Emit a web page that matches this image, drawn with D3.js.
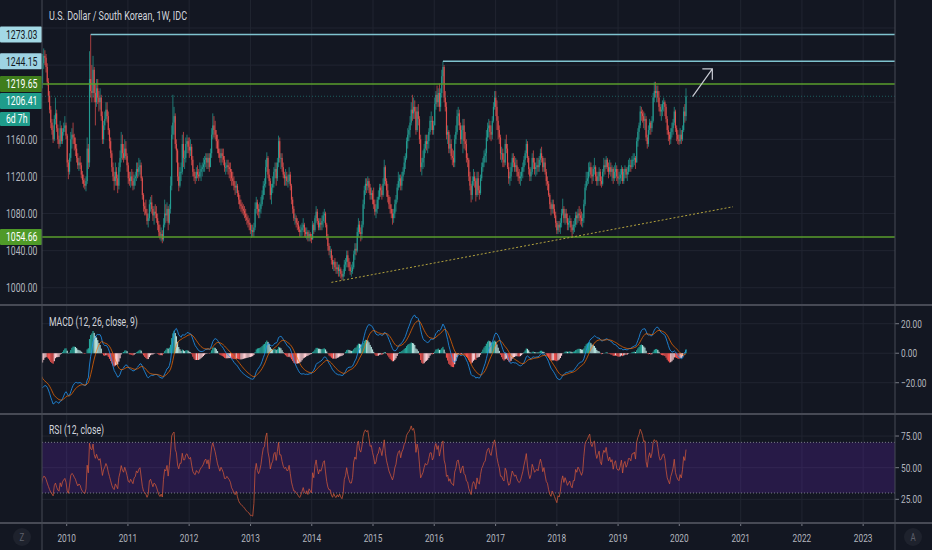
<!DOCTYPE html>
<html lang="en">
<head>
<meta charset="UTF-8">
<title>USD/KRW 1W</title>
<script src="https://d3js.org/d3.v7.min.js"></script>
<style>
  html, body { margin: 0; padding: 0; background: #131722; overflow: hidden; }
  svg { display: block; }
  text { font-family: Roboto, "Noto Sans", sans-serif; }
</style>
</head>
<body>
<div id="viz"><svg width="932" height="550"></svg></div>
<script>
// ---- data -------------------------------------------------------------
// weekly closes before the visible range, only used to warm up MACD / RSI
const warmStart = "2008-07-07";
const warmClose = [1045, 1010, 1015, 1012, 1025, 1040, 1065, 1090, 1110, 1115, 1160, 1165, 1210,
  1290, 1250, 1380, 1260, 1320, 1400, 1480, 1460, 1470, 1390, 1310, 1300, 1260,
  1330, 1370, 1370, 1380, 1365, 1390, 1460, 1530, 1550, 1480, 1440, 1390, 1340,
  1330, 1340, 1370, 1290, 1260, 1250, 1255, 1250, 1245, 1250, 1265, 1285, 1285,
  1295, 1285, 1250, 1235, 1220];

// weekly bars [high, low, close]; open = previous close
const yearStarts = ["2009-08-10", "2010-01-04", "2011-01-03", "2012-01-02", "2013-01-07", "2014-01-06",
  "2015-01-05", "2016-01-04", "2017-01-02", "2018-01-01", "2019-01-07", "2020-01-06"];

const bars2009 = [[1252,1215,1242],[1258,1236,1250],[1256,1240,1248],[1252,1232,1238],[1242,1218,1222],
  [1226,1200,1207],[1212,1188,1192],[1196,1172,1178],[1182,1165,1170],[1175,1156,1160],[1186,1158,1182],
  [1205,1176,1188],[1192,1168,1172],[1176,1155,1160],[1164,1150,1155],[1180,1152,1172],[1175,1155,1158],
  [1172,1155,1168],[1178,1164,1172],[1185,1168,1175],[1178,1160,1164]];

const bars2010 = [[1166,1130,1135],[1138,1117,1125],[1145,1122,1140],[1168,1136,1160],
  [1172,1150,1165],[1178,1155,1162],[1166,1148,1155],[1162,1142,1150],
  [1155,1135,1140],[1145,1128,1132],[1140,1126,1135],[1142,1128,1132],[1135,1118,1122],
  [1126,1112,1116],[1122,1108,1112],[1118,1106,1110],[1120,1104,1115],
  [1162,1112,1150],[1155,1128,1135],[1255,1130,1225],[1273.03,1205,1212],[1240,1200,1210],
  [1250,1205,1235],[1238,1200,1210],[1220,1175,1200],[1225,1195,1215],
  [1225,1198,1205],[1212,1190,1200],[1215,1192,1205],[1208,1180,1185],
  [1190,1155,1160],[1180,1155,1175],[1190,1170,1182],[1200,1180,1192],[1200,1178,1185],
  [1190,1165,1170],[1172,1150,1158],[1162,1140,1145],[1148,1125,1130],
  [1135,1115,1120],[1125,1105,1115],[1135,1110,1125],[1130,1110,1118],
  [1122,1102,1110],[1135,1106,1130],[1148,1125,1140],[1168,1135,1155],[1165,1138,1145],
  [1155,1135,1140],[1160,1138,1150],[1158,1138,1142],[1145,1125,1132]];

const bars2011 = [[1135,1112,1118],[1125,1110,1115],[1125,1108,1120],[1128,1110,1115],[1125,1105,1110],
  [1122,1106,1118],[1125,1110,1120],[1135,1115,1128],[1135,1118,1125],
  [1140,1120,1130],[1138,1122,1132],[1135,1115,1118],[1120,1095,1100],
  [1102,1082,1088],[1092,1078,1085],[1095,1078,1080],[1085,1068,1072],
  [1080,1065,1075],[1095,1072,1090],[1098,1082,1092],[1100,1080,1085],[1088,1072,1078],
  [1088,1068,1082],[1090,1075,1080],[1088,1070,1075],[1080,1062,1068],
  [1072,1055,1060],[1068,1052,1056],[1065,1050,1058],[1062,1048,1052],
  [1075,1050,1068],[1095,1065,1080],[1090,1070,1078],[1092,1072,1085],[1088,1062,1070],
  [1090,1068,1085],[1120,1080,1110],[1175,1105,1165],[1208,1160,1178],
  [1195,1165,1185],[1188,1150,1155],[1160,1135,1148],[1150,1115,1120],[1135,1104,1110],
  [1130,1108,1125],[1135,1115,1125],[1165,1122,1155],[1168,1130,1140],
  [1148,1128,1140],[1162,1135,1155],[1165,1145,1158],[1162,1145,1152]];

const bars2012 = [[1162,1140,1148],[1160,1142,1152],[1155,1132,1138],[1142,1120,1125],[1128,1115,1120],
  [1125,1112,1118],[1130,1115,1125],[1132,1118,1122],[1128,1115,1120],
  [1135,1118,1125],[1132,1115,1128],[1135,1120,1130],[1140,1125,1133],
  [1142,1125,1138],[1145,1130,1140],[1145,1128,1135],[1145,1128,1140],[1145,1125,1130],
  [1150,1130,1145],[1172,1140,1165],[1188,1160,1175],[1185,1162,1170],
  [1180,1160,1165],[1170,1150,1158],[1165,1145,1150],[1160,1140,1145],
  [1150,1135,1140],[1150,1132,1145],[1150,1135,1142],[1150,1132,1138],[1142,1125,1130],
  [1135,1122,1130],[1138,1125,1132],[1138,1122,1130],[1135,1118,1128],
  [1135,1115,1125],[1128,1110,1118],[1125,1110,1115],[1120,1105,1110],
  [1115,1100,1108],[1115,1102,1110],[1112,1098,1102],[1105,1090,1095],[1100,1085,1090],
  [1095,1082,1088],[1092,1080,1085],[1090,1078,1083],[1088,1075,1080],
  [1085,1072,1076],[1080,1068,1073],[1078,1065,1070],[1075,1062,1068],[1070,1058,1062]];

const bars2013 = [[1068,1054,1062],[1068,1055,1060],[1070,1055,1065],[1092,1062,1085],
  [1098,1080,1092],[1095,1078,1085],[1090,1075,1082],[1092,1075,1085],
  [1098,1080,1090],[1105,1088,1100],[1115,1095,1110],[1118,1100,1112],
  [1138,1108,1130],[1146,1125,1140],[1142,1118,1122],[1128,1110,1115],[1118,1095,1100],
  [1112,1090,1108],[1120,1102,1112],[1130,1108,1125],[1135,1118,1128],
  [1135,1110,1118],[1140,1115,1135],[1164,1130,1158],[1162,1135,1140],
  [1145,1128,1140],[1145,1125,1130],[1135,1118,1122],[1125,1110,1118],[1128,1110,1120],
  [1125,1110,1115],[1122,1108,1115],[1130,1112,1122],[1125,1105,1110],
  [1112,1090,1095],[1098,1080,1085],[1088,1072,1075],[1080,1068,1075],[1078,1065,1070],
  [1075,1062,1068],[1072,1060,1063],[1066,1055,1060],[1068,1055,1062],
  [1070,1056,1065],[1075,1060,1068],[1070,1055,1060],[1065,1054,1058],
  [1065,1052,1060],[1062,1050,1054],[1062,1050,1058],[1060,1050,1055],[1058,1048,1052]];

const bars2014 = [[1072,1052,1068],[1070,1058,1062],[1078,1060,1075],[1088,1070,1082],
  [1085,1068,1072],[1075,1062,1065],[1075,1062,1070],[1075,1062,1068],
  [1078,1062,1072],[1082,1065,1078],[1085,1070,1080],[1082,1065,1068],[1070,1052,1055],
  [1058,1040,1045],[1048,1035,1040],[1045,1032,1040],[1042,1025,1030],
  [1035,1020,1025],[1030,1018,1028],[1032,1018,1022],[1028,1015,1020],
  [1028,1015,1022],[1025,1012,1018],[1025,1012,1020],[1022,1010,1015],[1018,1008,1012],
  [1020,1008,1015],[1030,1012,1025],[1032,1018,1028],[1040,1022,1035],
  [1040,1022,1028],[1032,1018,1022],[1028,1014,1018],[1025,1012,1018],
  [1028,1015,1022],[1040,1020,1036],[1048,1030,1042],[1048,1035,1040],[1065,1038,1060],
  [1075,1055,1068],[1072,1058,1060],[1065,1050,1058],[1072,1052,1068],
  [1095,1065,1090],[1110,1085,1105],[1118,1100,1112],[1118,1102,1110],
  [1120,1105,1115],[1118,1102,1108],[1112,1095,1100],[1108,1095,1102],[1105,1090,1095]];

const bars2015 = [[1108,1085,1090],[1095,1078,1082],[1090,1075,1085],[1098,1080,1095],
  [1105,1085,1098],[1112,1095,1108],[1112,1098,1105],[1110,1095,1100],
  [1118,1098,1112],[1138,1110,1130],[1132,1110,1115],[1118,1098,1105],[1112,1092,1098],
  [1100,1085,1090],[1098,1080,1085],[1090,1075,1080],[1085,1068,1075],
  [1085,1070,1080],[1095,1075,1090],[1100,1082,1095],[1112,1092,1108],
  [1125,1105,1115],[1122,1108,1118],[1122,1105,1110],[1125,1105,1120],[1130,1115,1125],
  [1142,1122,1135],[1145,1128,1140],[1162,1138,1158],[1172,1150,1165],
  [1175,1158,1170],[1185,1162,1178],[1200,1175,1192],[1208,1180,1188],[1205,1182,1195],
  [1202,1182,1190],[1195,1165,1170],[1195,1168,1190],[1198,1175,1182],
  [1185,1155,1160],[1165,1125,1130],[1140,1121,1135],[1148,1128,1140],
  [1155,1130,1150],[1165,1145,1158],[1165,1148,1155],[1165,1145,1158],[1172,1150,1168],
  [1185,1165,1180],[1190,1170,1180],[1185,1165,1170],[1180,1165,1175]];

const bars2016 = [[1205,1175,1198],[1212,1192,1208],[1218,1195,1200],[1215,1195,1210],
  [1220,1190,1195],[1215,1190,1210],[1235,1205,1228],[1244.15,1220,1238],[1240,1200,1205],
  [1212,1190,1195],[1200,1160,1165],[1175,1155,1168],[1170,1145,1150],
  [1165,1145,1155],[1160,1138,1142],[1150,1132,1140],[1148,1130,1135],
  [1165,1130,1160],[1175,1155,1168],[1192,1165,1185],[1195,1175,1188],[1192,1170,1175],
  [1178,1155,1160],[1175,1155,1170],[1182,1145,1175],[1182,1150,1158],
  [1168,1148,1155],[1160,1135,1140],[1145,1130,1138],[1140,1115,1120],
  [1125,1105,1110],[1112,1092,1100],[1120,1095,1115],[1128,1110,1120],[1125,1108,1115],
  [1118,1093,1100],[1125,1098,1118],[1125,1100,1105],[1110,1095,1102],
  [1122,1100,1118],[1135,1115,1130],[1140,1125,1135],[1148,1130,1142],[1150,1135,1145],
  [1170,1135,1162],[1178,1158,1172],[1182,1162,1175],[1180,1160,1168],
  [1175,1158,1165],[1185,1160,1180],[1200,1178,1195],[1212,1192,1205]];

const bars2017 = [[1212,1185,1195],[1202,1170,1180],[1185,1160,1170],[1175,1155,1162],[1165,1138,1145],
  [1152,1135,1145],[1150,1130,1138],[1145,1130,1135],[1160,1132,1155],
  [1165,1145,1150],[1155,1128,1130],[1135,1112,1118],[1125,1110,1120],
  [1135,1115,1130],[1145,1125,1140],[1145,1130,1135],[1142,1125,1130],
  [1140,1125,1132],[1138,1120,1125],[1130,1115,1120],[1128,1112,1118],[1125,1110,1120],
  [1130,1115,1125],[1135,1118,1130],[1142,1125,1138],[1148,1132,1145],
  [1160,1140,1155],[1158,1135,1140],[1142,1122,1128],[1130,1115,1120],[1130,1115,1125],
  [1145,1122,1140],[1148,1128,1135],[1140,1122,1128],[1135,1120,1130],
  [1140,1122,1132],[1140,1125,1130],[1142,1125,1138],[1150,1132,1145],
  [1152,1135,1140],[1142,1125,1130],[1140,1125,1135],[1140,1122,1125],[1128,1110,1115],
  [1120,1105,1112],[1115,1098,1100],[1102,1085,1090],[1092,1078,1085],
  [1095,1080,1090],[1095,1080,1085],[1090,1075,1078],[1082,1065,1070]];

const bars2018 = [[1072,1058,1062],[1072,1058,1068],[1072,1060,1065],[1075,1058,1070],[1085,1065,1080],
  [1096,1078,1085],[1088,1070,1075],[1085,1068,1080],[1085,1070,1075],
  [1080,1062,1068],[1075,1062,1070],[1078,1065,1072],[1075,1060,1065],
  [1068,1055,1062],[1072,1058,1068],[1075,1060,1068],[1082,1065,1078],[1082,1068,1075],
  [1085,1070,1080],[1088,1072,1078],[1085,1068,1075],[1082,1066,1072],
  [1080,1065,1075],[1095,1070,1090],[1112,1088,1108],[1125,1105,1115],
  [1125,1110,1118],[1135,1112,1125],[1136,1120,1130],[1135,1118,1122],[1130,1112,1120],
  [1132,1115,1128],[1140,1122,1130],[1132,1115,1120],[1125,1110,1115],
  [1125,1110,1120],[1130,1115,1125],[1128,1110,1115],[1120,1108,1112],
  [1128,1110,1125],[1140,1120,1132],[1138,1122,1130],[1142,1128,1138],[1140,1125,1130],
  [1135,1118,1125],[1138,1122,1130],[1135,1120,1125],[1132,1115,1128],
  [1130,1112,1118],[1132,1115,1125],[1135,1118,1128],[1132,1115,1120],[1128,1112,1118]];

const bars2019 = [[1125,1110,1118],[1128,1112,1122],[1132,1115,1128],[1130,1112,1115],
  [1128,1112,1125],[1132,1118,1128],[1130,1118,1122],[1130,1115,1125],
  [1138,1122,1132],[1140,1125,1132],[1138,1125,1130],[1142,1128,1138],
  [1145,1130,1138],[1145,1132,1140],[1142,1128,1135],[1162,1135,1158],[1172,1152,1168],
  [1178,1160,1175],[1196,1172,1190],[1195,1180,1188],[1192,1178,1185],
  [1190,1172,1180],[1188,1170,1182],[1185,1158,1162],[1165,1150,1155],
  [1175,1152,1170],[1182,1165,1178],[1180,1165,1172],[1185,1168,1180],[1210,1178,1205],
  [1222,1200,1212],[1222,1205,1210],[1218,1200,1212],[1218,1200,1205],
  [1212,1190,1195],[1198,1185,1190],[1198,1180,1192],[1202,1185,1198],[1205,1190,1200],
  [1202,1185,1195],[1198,1178,1182],[1185,1165,1170],[1175,1158,1165],
  [1168,1154,1160],[1172,1155,1168],[1178,1162,1172],[1182,1165,1178],
  [1195,1175,1190],[1192,1168,1172],[1175,1158,1165],[1170,1155,1160],[1165,1154,1158]];

const bars2020 = [[1172,1155,1165],[1170,1155,1160],[1175,1158,1170],[1195,1168,1190],[1198,1178,1185],
  [1215,1180,1206.41]];

const barsByYear = [bars2009, bars2010, bars2011, bars2012, bars2013, bars2014,
  bars2015, bars2016, bars2017, bars2018, bars2019, bars2020];

// drawn price levels, the first two are rays that start at a peak week
const levelPrices = [1273.03, 1244.15, 1219.65, 1054.66];
const levelStarts = ["2010-05-24", "2016-02-22", null, null];

// dotted support trendline and the arrow (date, price)
const trendDates = ["2014-04-28", "2020-11-16"];
const trendPrices = [1005.8, 1087.3];
const arrowDates = ["2020-03-20", "2020-07-16"];
const arrowPrices = [1206, 1236];

const countdown = "6d 7h";
const priceTicks = [1000, 1040, 1080, 1120, 1160, 1200, 1240, 1280];
const priceTickLabels = [1000, 1040, 1080, 1120, 1160, 1280];
const macdTicks = [-20, 0, 20];
const rsiTicks = [25, 50, 75];
const rsiBands = [30, 70];
const yearTicks = [2010, 2011, 2012, 2013, 2014, 2015, 2016, 2017, 2018, 2019, 2020, 2021, 2022, 2023];

// ---- build series -----------------------------------------------------
const parse = d3.timeParse("%Y-%m-%d");
const candles = [];
let prevClose = warmClose[warmClose.length - 1];
barsByYear.forEach(function (bars, yi) {
  const start = parse(yearStarts[yi]);
  bars.forEach(function (b, i) {
    const o = prevClose;
    candles.push({
      date: d3.timeWeek.offset(start, i),
      open: o, high: Math.max(b[0], o, b[2]), low: Math.min(b[1], o, b[2]), close: b[2]
    });
    prevClose = b[2];
  });
});

const wStart = parse(warmStart);
const series = warmClose.map(function (c, i) { return { date: d3.timeWeek.offset(wStart, i), close: c }; })
  .concat(candles.map(function (d) { return { date: d.date, close: d.close }; }));

function ema(vals, n) {
  const k = 2 / (n + 1);
  let prev;
  return vals.map(function (v, i) { prev = i === 0 ? v : v * k + prev * (1 - k); return prev; });
}
const closes = series.map(function (d) { return d.close; });
const e12 = ema(closes, 12), e26 = ema(closes, 26);
const macd = closes.map(function (c, i) { return e12[i] - e26[i]; });
const signal = ema(macd, 9);
series.forEach(function (d, i) {
  d.macd = macd[i];
  d.signal = signal[i];
  d.hist = macd[i] - signal[i];
  d.prevHist = i > 0 ? macd[i - 1] - signal[i - 1] : d.hist;
});

// RSI 12 with Wilder smoothing
(function () {
  const n = 12;
  let up = 0, dn = 0;
  for (let i = 1; i < series.length; i++) {
    const ch = closes[i] - closes[i - 1];
    const u = Math.max(ch, 0), w = Math.max(-ch, 0);
    if (i <= n) {
      up += u / n; dn += w / n;
    } else {
      up = (up * (n - 1) + u) / n; dn = (dn * (n - 1) + w) / n;
    }
    if (i >= n) series[i].rsi = dn === 0 ? 100 : 100 - 100 / (1 + up / dn);
  }
})();

// ---- layout -----------------------------------------------------------
const W = 932, H = 550;
const left = 42, right = 895;
const mainTop = 0, mainBot = 305, macdBot = 414, rsiBot = 523;
const SX = 0.72;   // glyphs in the reference are narrow

const svg = d3.select("svg");
svg.append("rect").attr("width", W).attr("height", H).attr("fill", "#131722");

const x = d3.scaleTime()
  .domain([new Date(2010, 0, 1), new Date(2020, 0, 1)])
  .range([66.7, 679.3]);
const y = d3.scaleLinear().domain([981.4, 1310.2]).range([mainBot, mainTop]);
const yM = d3.scaleLinear().domain([-41.2, 32.7]).range([macdBot, mainBot]);
const yR = d3.scaleLinear().domain([6.3, 92.4]).range([rsiBot, macdBot]);
const barW = x(new Date(2015, 0, 8)) - x(new Date(2015, 0, 1));

const defs = svg.append("defs");
[["clipMain", mainTop, mainBot], ["clipMacd", mainBot, macdBot], ["clipRsi", macdBot, rsiBot]].forEach(function (c) {
  defs.append("clipPath").attr("id", c[0]).append("rect")
    .attr("x", left).attr("y", c[1]).attr("width", right - left).attr("height", c[2] - c[1]);
});
// the 1280 tick label only peeks out above the first badge
defs.append("clipPath").attr("id", "clipTop").append("rect")
  .attr("x", 0).attr("y", 0).attr("width", left).attr("height", 27);

function label(g, px, py, str, size, color, anchor) {
  return g.append("text")
    .attr("transform", "translate(" + px + "," + py + ") scale(" + SX + ",1)")
    .attr("text-anchor", anchor || "start")
    .attr("font-size", size)
    .attr("fill", color)
    .text(str);
}

// ---- grid ---------------------------------------------------------------
const grid = svg.append("g").attr("stroke", "#212531").attr("stroke-width", 1);
yearTicks.forEach(function (yr) {
  const gx = x(new Date(yr, 0, 1));
  grid.append("line").attr("x1", gx).attr("x2", gx).attr("y1", mainTop).attr("y2", rsiBot);
});
priceTicks.forEach(function (p) {
  grid.append("line").attr("x1", left).attr("x2", right).attr("y1", y(p)).attr("y2", y(p));
});
macdTicks.forEach(function (v) {
  grid.append("line").attr("x1", left).attr("x2", right).attr("y1", yM(v)).attr("y2", yM(v));
});
rsiTicks.forEach(function (v) {
  grid.append("line").attr("x1", left).attr("x2", right).attr("y1", yR(v)).attr("y2", yR(v));
});

// ---- main pane ------------------------------------------------------------
const main = svg.append("g").attr("clip-path", "url(#clipMain)");
const UP = "#26a69a", DOWN = "#ef5350";

main.selectAll("line.wick").data(candles).enter().append("line")
  .attr("class", "wick")
  .attr("x1", function (d) { return x(d.date); })
  .attr("x2", function (d) { return x(d.date); })
  .attr("y1", function (d) { return y(d.high); })
  .attr("y2", function (d) { return y(d.low); })
  .attr("stroke", function (d) { return d.close >= d.open ? UP : DOWN; })
  .attr("stroke-width", 0.9)
  .attr("stroke-opacity", 0.75);

main.selectAll("rect.body").data(candles).enter().append("rect")
  .attr("class", "body")
  .attr("x", function (d) { return x(d.date) - barW / 2; })
  .attr("width", barW)
  .attr("y", function (d) { return y(Math.max(d.open, d.close)); })
  .attr("height", function (d) { return Math.max(1, Math.abs(y(d.open) - y(d.close))); })
  .attr("fill", function (d) { return d.close >= d.open ? UP : DOWN; })
  .attr("fill-opacity", 0.8);

// last price line
const last = candles[candles.length - 1];
main.append("line")
  .attr("x1", left).attr("x2", right).attr("y1", y(last.close)).attr("y2", y(last.close))
  .attr("stroke", UP).attr("stroke-opacity", 0.5).attr("stroke-dasharray", "1,2");

// levels
const levelColors = ["#7fc3cf", "#7fc3cf", "#5a9e2c", "#5a9e2c"];
levelPrices.forEach(function (p, i) {
  const x1 = levelStarts[i] ? x(parse(levelStarts[i])) : left;
  main.append("line")
    .attr("x1", x1).attr("x2", right).attr("y1", y(p)).attr("y2", y(p))
    .attr("stroke", levelColors[i]).attr("stroke-width", 1.5);
});

// trendline
main.append("line")
  .attr("x1", x(parse(trendDates[0]))).attr("y1", y(trendPrices[0]))
  .attr("x2", x(parse(trendDates[1]))).attr("y2", y(trendPrices[1]))
  .attr("stroke", "#b3a33d").attr("stroke-width", 1).attr("stroke-dasharray", "2,2");

// arrow
const ax0 = x(parse(arrowDates[0])), ay0 = y(arrowPrices[0]);
const ax1 = x(parse(arrowDates[1])), ay1 = y(arrowPrices[1]);
main.append("path")
  .attr("d", "M" + ax0 + "," + ay0 + "L" + ax1 + "," + ay1 +
    "M" + (ax1 - 10) + "," + ay1 + "L" + ax1 + "," + ay1 + "L" + ax1 + "," + (ay1 + 11))
  .attr("fill", "none").attr("stroke", "#c8cbd3").attr("stroke-width", 1.2);

label(svg, 49, 20, "U.S. Dollar / South Korean, 1W, IDC", 12.5, "#d1d4dc");

// ---- MACD pane --------------------------------------------------------------
const mg = svg.append("g").attr("clip-path", "url(#clipMacd)");
function histColor(d) {
  if (d.hist >= 0) return d.prevHist < d.hist ? "#26a69a" : "#b2dfdb";
  return d.prevHist < d.hist ? "#ffcdd2" : "#ef5350";
}
mg.selectAll("rect.hist").data(series).enter().append("rect")
  .attr("class", "hist")
  .attr("x", function (d) { return x(d.date) - barW / 2; })
  .attr("width", barW)
  .attr("y", function (d) { return Math.min(yM(0), yM(d.hist)); })
  .attr("height", function (d) { return Math.abs(yM(d.hist) - yM(0)); })
  .attr("fill", histColor);

mg.append("path").datum(series)
  .attr("d", d3.line().x(function (d) { return x(d.date); }).y(function (d) { return yM(d.macd); }))
  .attr("fill", "none").attr("stroke", "#2196f3").attr("stroke-width", 1).attr("stroke-opacity", 0.8);
mg.append("path").datum(series)
  .attr("d", d3.line().x(function (d) { return x(d.date); }).y(function (d) { return yM(d.signal); }))
  .attr("fill", "none").attr("stroke", "#ff6d00").attr("stroke-width", 1).attr("stroke-opacity", 0.7);

label(svg, 49, 326, "MACD (12, 26, close, 9)", 12, "#d1d4dc");

// ---- RSI pane ---------------------------------------------------------------
const rg = svg.append("g").attr("clip-path", "url(#clipRsi)");
rg.append("rect")
  .attr("x", left).attr("width", right - left)
  .attr("y", yR(rsiBands[1])).attr("height", yR(rsiBands[0]) - yR(rsiBands[1]))
  .attr("fill", "rgb(120,40,220)").attr("fill-opacity", 0.2);
rsiBands.forEach(function (v) {
  rg.append("line").attr("x1", left).attr("x2", right).attr("y1", yR(v)).attr("y2", yR(v))
    .attr("stroke", "#787b86").attr("stroke-dasharray", "1,2");
});
rg.append("path").datum(series.filter(function (d) { return d.rsi !== undefined; }))
  .attr("d", d3.line().x(function (d) { return x(d.date); }).y(function (d) { return yR(d.rsi); }))
  .attr("fill", "none").attr("stroke", "#d2583a").attr("stroke-width", 1).attr("stroke-opacity", 0.75);

label(svg, 49, 434, "RSI (12, close)", 12, "#d1d4dc");

// ---- axes -------------------------------------------------------------------
const axisColor = "#b2b5be";
priceTickLabels.forEach(function (p) {
  const t = label(svg, 6, y(p), d3.format(".2f")(p), 12, axisColor).attr("dy", "0.36em");
  if (y(p) < 30) t.attr("clip-path", "url(#clipTop)");
});
macdTicks.forEach(function (v) {
  svg.append("line").attr("x1", right).attr("x2", right + 4).attr("y1", yM(v)).attr("y2", yM(v)).attr("stroke", "#787b86");
  label(svg, 901, yM(v), d3.format(".2f")(v).replace("-", "\u2212"), 11.5, axisColor).attr("dy", "0.36em");
});
rsiTicks.forEach(function (v) {
  svg.append("line").attr("x1", right).attr("x2", right + 4).attr("y1", yR(v)).attr("y2", yR(v)).attr("stroke", "#787b86");
  label(svg, 901, yR(v), d3.format(".2f")(v), 11.5, axisColor).attr("dy", "0.36em");
});
yearTicks.forEach(function (yr) {
  const tx = x(new Date(yr, 0, 1));
  svg.append("line").attr("x1", tx).attr("x2", tx).attr("y1", rsiBot).attr("y2", rsiBot + 3).attr("stroke", "#787b86");
  label(svg, tx, 542, String(yr), 11.5, axisColor, "middle");
});

// price scale badges, pushed apart when they overlap
const badgeH = 16;
const badges = [
  { v: levelPrices[0], fill: "#a3d9e6", text: "#131722" },
  { v: levelPrices[1], fill: "#9ed3e3", text: "#131722" },
  { v: levelPrices[2], fill: "#3f7d1c", text: "#ffffff" },
  { v: last.close, fill: "#1f9c8b", text: "#ffffff" },
  { v: levelPrices[3], fill: "#4f9a28", text: "#ffffff" }
];
badges.forEach(function (b) { b.cy = y(b.v); });
badges.sort(function (a, b) { return a.cy - b.cy; });
badges.forEach(function (b, i) {
  if (i > 0 && b.cy - badges[i - 1].cy < badgeH + 1) b.cy = badges[i - 1].cy + badgeH + 1;
});
badges.forEach(function (b) {
  svg.append("rect").attr("x", 0).attr("y", b.cy - badgeH / 2).attr("width", left).attr("height", badgeH)
    .attr("rx", 1).attr("fill", b.fill);
  label(svg, 6, b.cy, d3.format(".2f")(b.v), 12, b.text).attr("dy", "0.36em");
  if (b.v === last.close) {
    const ty = b.cy + badgeH / 2 + 3;
    svg.append("rect").attr("x", 0).attr("y", ty).attr("width", 30).attr("height", 14)
      .attr("rx", 1).attr("fill", b.fill);
    label(svg, 6, ty + 7, countdown, 12, "#ffffff").attr("dy", "0.36em");
  }
});

// pane separators and scale borders
const sep = svg.append("g").attr("stroke", "#474a55").attr("stroke-width", 2);
[mainBot, macdBot, rsiBot].forEach(function (sy) {
  sep.append("line").attr("x1", 0).attr("x2", W).attr("y1", sy).attr("y2", sy);
});
sep.append("line").attr("x1", left).attr("x2", left).attr("y1", 0).attr("y2", H).attr("stroke-width", 1);
sep.append("line").attr("x1", right).attr("x2", right).attr("y1", 0).attr("y2", H).attr("stroke-width", 1);

// corner buttons
[[22, "Z"], [913, "A"]].forEach(function (c) {
  svg.append("circle").attr("cx", c[0]).attr("cy", 537).attr("r", 9).attr("fill", "#1e222d");
  label(svg, c[0], 537, c[1], 11, "#5d606b", "middle").attr("dy", "0.36em");
});
</script>
</body>
</html>
